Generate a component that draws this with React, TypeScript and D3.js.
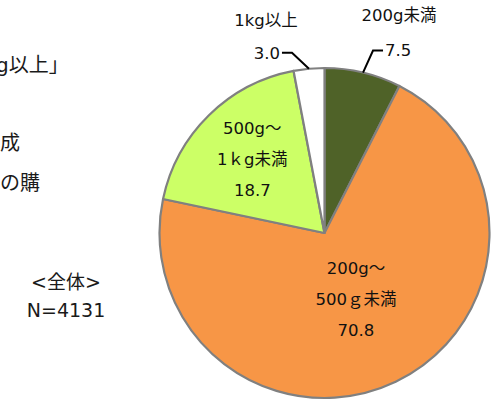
import React from "react";
import * as d3 from "d3";

// Purchase weight share (%), clockwise from 12 o'clock
const categories = ["200g未満", "200g～500g未満", "500g～1kg未満", "1kg以上"];
const shares = [7.5, 70.8, 18.7, 3.0];
const sliceColors = ["#4f6228", "#f79646", "#ccff66", "#ffffff"];

// Multi-line labels drawn inside the two large slices
const innerLabelLines = [
  null,
  ["200g～", "500ｇ未満", "70.8"],
  ["500g～", "1ｋg未満", "18.7"],
  null,
];
// Names for the two small slices, drawn outside with leader lines
const outerNames = ["200g未満", null, null, "1kg以上"];

const totalLabel = ["<全体>", "N=4131"];
const sideText = ["g以上」", "成", "の購"];

const W = 494;
const H = 400;
const cx = 324.5;
const cy = 233;
const R = 165;
const FONT = "'DejaVu Sans', 'Noto Sans CJK JP', sans-serif";

export default function App() {
  const pie = d3
    .pie<number>()
    .sort(null)
    .value((d) => d)
    .startAngle(0)
    .endAngle(2 * Math.PI);
  const arcs = pie(shares);
  const arc = d3.arc<d3.PieArcDatum<number>>().innerRadius(0).outerRadius(R);

  // radius at which each inner label block is centred
  const innerRadius = [0, 73, 103, 0];
  const lineGap = 31;

  const polar = (a: number, r: number): [number, number] => [
    cx + r * Math.sin(a),
    cy - r * Math.cos(a),
  ];

  return (
    <div style={{ position: "fixed", left: 0, top: 0, width: W, height: H, background: "#fff" }}>
      <svg width={W} height={H} style={{ display: "block" }}>
        <rect width={W} height={H} fill="#fff" />
        {/* caption text running in from the left edge */}
        <g fontFamily={FONT} fontSize={20} fill="#1a1a1a">
          <text x={-4} y={72}>{sideText[0]}</text>
          <text x={0} y={150}>{sideText[1]}</text>
          <text x={0} y={190}>{sideText[2]}</text>
        </g>

        <g transform={`translate(${cx},${cy})`}>
          {arcs.map((a, i) => (
            <path
              key={categories[i]}
              d={arc(a) || ""}
              fill={sliceColors[i]}
              stroke="#808080"
              strokeWidth={2.2}
              strokeLinejoin="round"
            />
          ))}
        </g>

        <g fontFamily={FONT} fontSize={16.5} fill="#111" textAnchor="middle">
          {arcs.map((a, i) => {
            const lines = innerLabelLines[i];
            if (!lines) return null;
            const mid = (a.startAngle + a.endAngle) / 2;
            const [x, y] = polar(mid, innerRadius[i]);
            return (
              <g key={"in" + i}>
                {lines.map((t, k) => (
                  <text key={k} x={x} y={y + (k - 1) * lineGap} dy="0.36em">
                    {t}
                  </text>
                ))}
              </g>
            );
          })}
        </g>

        {/* leader lines and values for the small slices */}
        <g fontFamily={FONT} fontSize={16.5} fill="#111">
          {arcs.map((a, i) => {
            const name = outerNames[i];
            if (!name) return null;
            const mid = (a.startAngle + a.endAngle) / 2;
            const [ex, ey] = polar(mid, R);
            const right = Math.sin(mid) > 0;
            const dir = right ? 1 : -1;
            const elbow: [number, number] = right ? [ex + 10, ey - 22] : [ex - 17, ey - 16];
            const end: [number, number] = [elbow[0] + dir * 10, elbow[1]];
            const value = shares[i].toFixed(1);
            return (
              <g key={"out" + i}>
                <polyline
                  points={`${ex},${ey} ${elbow[0]},${elbow[1]} ${end[0]},${end[1]}`}
                  fill="none"
                  stroke="#000"
                  strokeWidth={2}
                />
                <text
                  x={end[0] + dir * 2}
                  y={end[1]}
                  dy="0.36em"
                  textAnchor={right ? "start" : "end"}
                >
                  {value}
                </text>
                <text
                  x={right ? 399 : 266}
                  y={right ? 15 : 20}
                  dy="0.36em"
                  textAnchor="middle"
                >
                  {name}
                </text>
              </g>
            );
          })}
        </g>

        <g fontFamily={FONT} fontSize={19} fill="#1a1a1a" textAnchor="middle">
          <text x={66} y={282} dy="0.36em">{totalLabel[0]}</text>
          <text x={66} y={310} dy="0.36em">{totalLabel[1]}</text>
        </g>
      </svg>
    </div>
  );
}
